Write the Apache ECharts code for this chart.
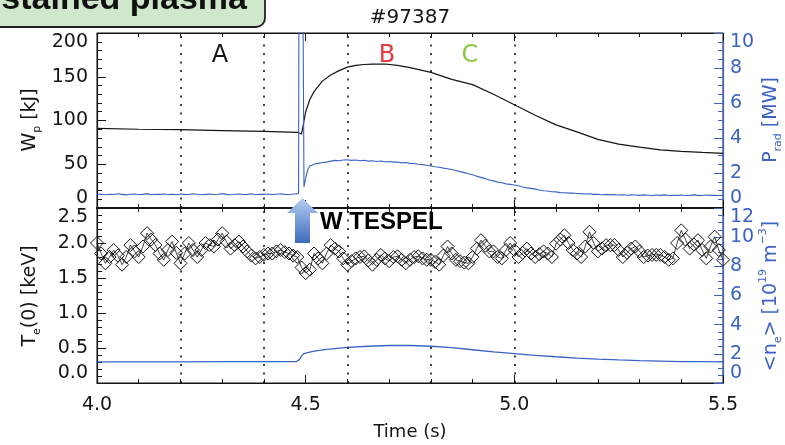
<!DOCTYPE html>
<html><head><meta charset="utf-8">
<script src="https://cdn.jsdelivr.net/npm/echarts@6/dist/echarts.min.js"></script>
<style>html,body{margin:0;padding:0;background:#fff}#c{width:785px;height:445px}</style>
</head><body><div id="c"></div>
<script>
// ---- data ----
const xMin = 4.0, xMax = 5.5;
const markerTimes = [4.2, 4.4, 4.6, 4.8, 5.0];

// Stored energy Wp [kJ]
const wpTime = [4.00,4.10,4.20,4.30,4.40,4.48,4.49,4.495,4.50,4.51,4.52,4.54,4.56,4.58,4.60,4.62,4.64,4.66,4.69,4.72,4.75,4.80,4.85,4.90,4.95,5.00,5.05,5.10,5.15,5.20,5.25,5.30,5.35,5.40,5.45,5.50];
const wpVal  = [91,90,89.5,88.5,87.5,86.5,84.5,97,110,124,133,145,152,157,161,163,164,164.5,164.6,163,160.5,155,147,141,130,118,106,95,87,78.5,73,69.5,66.5,64.8,63.5,62.5];

// Radiated power Prad [MW]
const pradPreStart = 4.00, pradStep = 0.01;
const pradPre = [0.78,0.80,0.76,0.79,0.77,0.81,0.78,0.75,0.79,0.80,0.77,0.78,0.82,0.76,0.79,0.78,0.80,0.77,0.79,0.76,0.80,0.78,0.77,0.81,0.79,0.76,0.78,0.80,0.77,0.79,0.82,0.78,0.76,0.79,0.80,0.77,0.78,0.81,0.76,0.79,0.78,0.80,0.77,0.79,0.81,0.78,0.76,0.80];
const pradSpikeTime = [4.478,4.483,4.484,4.493,4.496,4.50,4.505,4.51,4.52,4.53];
const pradSpikeVal  = [0.80,0.85,14,14,1.2,1.7,2.2,2.4,2.5,2.55];
const pradPostStart = 4.54;
const pradPost = [2.60,2.62,2.68,2.72,2.70,2.74,2.76,2.72,2.74,2.70,2.73,2.68,2.70,2.66,2.69,2.64,2.66,2.62,2.63,2.58,2.60,2.55,2.54,2.50,2.48,2.44,2.40,2.36,2.33,2.28,2.24,2.20,2.14,2.08,2.02,1.96,1.90,1.82,1.75,1.68,1.60,1.55,1.48,1.44,1.38,1.35,1.31,1.27,1.20,1.15,1.12,1.08,1.03,0.99,0.97,0.93,0.92,0.88,0.87,0.85,0.86,0.83,0.82,0.80,0.81,0.78,0.79,0.76,0.78,0.75,0.77,0.74,0.76,0.73,0.75,0.74,0.72,0.75,0.73,0.71,0.74,0.72,0.75,0.71,0.73,0.72,0.74,0.71,0.73,0.75,0.72,0.71,0.74,0.72,0.73,0.71,0.72];

// Central electron temperature Te(0) [keV], every 0.01 s from 4.00
const teStart = 4.00, teStep = 0.01;
const teVal = [2.00,1.85,1.71,1.80,1.90,1.82,1.69,1.80,1.97,1.88,1.80,1.95,2.14,2.05,1.97,1.85,1.76,1.90,2.02,1.86,
1.71,1.85,2.00,1.90,1.80,1.90,2.00,1.97,1.95,2.05,2.14,2.02,1.92,1.97,2.02,1.95,1.88,1.82,1.78,1.80,
1.83,1.85,1.85,1.88,1.90,1.87,1.85,1.82,1.80,1.65,1.57,1.62,1.85,1.78,1.71,1.85,1.97,1.92,1.88,1.78,
1.69,1.74,1.78,1.80,1.81,1.75,1.69,1.76,1.83,1.78,1.74,1.80,1.81,1.76,1.71,1.76,1.80,1.81,1.78,1.76,
1.76,1.73,1.69,1.82,1.95,1.85,1.76,1.74,1.72,1.71,1.80,1.92,2.04,1.96,1.88,1.88,1.80,1.78,1.90,2.00,
1.90,1.80,1.86,1.92,1.85,1.80,1.84,1.88,1.85,1.80,1.99,2.05,2.11,2.00,1.90,1.85,1.80,1.95,2.16,2.00,
1.88,1.92,1.97,1.97,1.97,1.90,1.80,1.86,1.92,1.95,1.88,1.80,1.82,1.83,1.83,1.83,1.80,1.76,1.78,2.00,
2.18,2.05,1.92,1.98,2.04,1.90,1.78,1.95,2.09,1.90,1.76];

// Line-averaged density <ne> [1e19 m^-3]
const neTime = [4.00,4.10,4.20,4.30,4.40,4.478,4.485,4.49,4.495,4.50,4.52,4.55,4.60,4.65,4.70,4.75,4.80,4.85,4.90,4.95,5.00,5.05,5.10,5.15,5.20,5.25,5.30,5.35,5.40,5.45,5.50];
const neVal  = [1.45,1.45,1.45,1.46,1.46,1.47,1.60,1.85,2.00,2.05,2.18,2.30,2.44,2.52,2.57,2.57,2.52,2.42,2.28,2.14,2.02,1.90,1.80,1.71,1.64,1.58,1.53,1.50,1.47,1.46,1.45];

// ---- build ----
const wpData = wpTime.map((t,i)=>[t, wpVal[i]]);
const pradData = [];
pradPre.forEach((v,i)=>pradData.push([+(pradPreStart + i*pradStep).toFixed(3), v]));
pradSpikeTime.forEach((t,i)=>pradData.push([t, pradSpikeVal[i]]));
pradPost.forEach((v,i)=>pradData.push([+(pradPostStart + i*pradStep).toFixed(3), v]));
const teData = teVal.map((v,i)=>[+(teStart + i*teStep).toFixed(3), v]);
const neData = neTime.map((t,i)=>[t, neVal[i]]);

const BLUE = '#3b63c4';
const INK = '#151515';
const FONT = 'DejaVu Sans';

function xAx(grid, pos, showLabel, lineW){
  return {
    type:'value', gridIndex:grid, position:pos, min:xMin, max:xMax, interval:0.5,
    axisLine:{show:true, onZero:false, lineStyle:{color:INK, width:lineW}},
    axisTick:{show:true, inside:true, length:8, lineStyle:{color:INK}},
    minorTick:{show:true, splitNumber:5, length:4, lineStyle:{color:INK}},
    splitLine:{show:false},
    axisLabel:{show:showLabel, color:INK, fontFamily:FONT, fontSize:19, margin:13,
      formatter:v=>v.toFixed(1)},
    name: showLabel ? 'Time (s)' : '', nameLocation:'middle', nameGap:40,
    nameTextStyle:{color:INK, fontFamily:FONT, fontSize:18}
  };
}
function yAx(grid, pos, min, max, interval, minor, color, fmt){
  return {
    type:'value', gridIndex:grid, position:pos, min, max, interval,
    axisLine:{show:true, onZero:false, lineStyle:{color, width:1.2}},
    axisTick:{show:true, inside:true, length:9, lineStyle:{color}},
    minorTick:{show:true, splitNumber:minor, length:5, lineStyle:{color}},
    splitLine:{show:false},
    axisLabel:{color, fontFamily:FONT, fontSize:19, margin: pos==='left'?9:7,
      formatter:fmt, verticalAlignMaxLabel:'top', verticalAlignMinLabel:'bottom'}
  };
}
const markLine = {
  symbol:'none', silent:true, label:{show:false},
  lineStyle:{type:[2,6.5], color:INK, width:1.6},
  data: markerTimes.map(t=>({xAxis:t}))
};

const chart = echarts.init(document.getElementById('c'), null, {renderer:'canvas'});
chart.setOption({
  animation:false,
  backgroundColor:'#fff',
  grid:[
    {left:97, right:62, top:33, height:175, show:true, borderColor:INK, borderWidth:1},
    {left:97, right:62, top:208, height:175, show:true, borderColor:INK, borderWidth:1}
  ],
  xAxis:[ xAx(0,'bottom',false,2), xAx(0,'top',false,1), xAx(1,'bottom',true,1.2), xAx(1,'top',false,2) ],
  yAxis:[
    yAx(0,'left',0,200,50,5,INK, v=>String(v)),
    yAx(0,'right',0,10,2,4,BLUE, v=>String(v)),
    yAx(1,'left',0,2.5,0.5,5,INK, v=>v.toFixed(1)),
    yAx(1,'right',0,12,2,4,BLUE, v=>String(v))
  ],
  series:[
    {type:'line', xAxisIndex:0, yAxisIndex:0, data:wpData, showSymbol:false, clip:true,
     lineStyle:{color:INK, width:1.2}, markLine},
    {type:'line', xAxisIndex:0, yAxisIndex:1, data:pradData, showSymbol:false, clip:true,
     lineStyle:{color:BLUE, width:1.1}},
    {type:'line', xAxisIndex:2, yAxisIndex:2, data:teData, symbol:'diamond', symbolSize:13,
     showSymbol:true, showAllSymbol:true, clip:true,
     itemStyle:{color:'rgba(255,255,255,0)', borderColor:INK, borderWidth:1},
     lineStyle:{color:INK, width:0.8}, markLine},
    {type:'line', xAxisIndex:2, yAxisIndex:3, data:neData, showSymbol:false, clip:true,
     lineStyle:{color:BLUE, width:1.3}}
  ],
  graphic:[
    {type:'rect', shape:{x:-20, y:-20, width:285, height:47, r:9},
     style:{fill:'#cfe8cb', stroke:'#222', lineWidth:1.8}, z:10},
    {type:'text', x:247, y:0, z:11,
     style:{text:'Sustained plasma', fill:'#111', font:'bold 34px "Liberation Sans", Arial, sans-serif',
       align:'right', verticalAlign:'middle'}},
    {type:'text', x:410, y:18, style:{text:'#97387', fill:INK, font:'20px "DejaVu Sans"', align:'center', verticalAlign:'middle'}},
    {type:'text', x:220, y:56, style:{text:'A', fill:INK, font:'24px "DejaVu Sans"', align:'center', verticalAlign:'middle'}},
    {type:'text', x:387, y:56, style:{text:'B', fill:'#e23a3f', font:'24px "DejaVu Sans"', align:'center', verticalAlign:'middle'}},
    {type:'text', x:470, y:56, style:{text:'C', fill:'#8dc63f', font:'24px "DejaVu Sans"', align:'center', verticalAlign:'middle'}},
    {type:'polygon', shape:{points:[[287,213],[302.5,198],[318,213],[310,213],[310,243],[295,243],[295,213]]},
     style:{fill:new echarts.graphic.LinearGradient(0,0,0,1,[{offset:0,color:'#b7cdf0'},{offset:1,color:'#3c6bbd'}])}, z:20},
    {type:'text', x:320, y:222, z:20, style:{text:'W TESPEL', fill:'#000', font:'bold 24px "Liberation Sans", Arial, sans-serif', align:'left', verticalAlign:'middle'}},
    // axis titles
    {type:'text', x:30, y:120, rotation:Math.PI/2,
     style:{text:'{a|W}{s|p}{a| [kJ]}', align:'center', verticalAlign:'middle',
       rich:{a:{fontFamily:FONT, fontSize:19, fill:INK, lineHeight:26, verticalAlign:'middle'},
             s:{fontFamily:FONT, fontSize:11, fill:INK, lineHeight:26, verticalAlign:'bottom'}}}},
    {type:'text', x:30, y:296, rotation:Math.PI/2,
     style:{text:'{a|T}{s|e}{a|(0) [keV]}', align:'center', verticalAlign:'middle',
       rich:{a:{fontFamily:FONT, fontSize:19, fill:INK, lineHeight:26, verticalAlign:'middle'},
             s:{fontFamily:FONT, fontSize:11, fill:INK, lineHeight:26, verticalAlign:'bottom'}}}},
    {type:'text', x:771, y:120, rotation:Math.PI/2,
     style:{text:'{a|P}{s|rad}{a| [MW]}', align:'center', verticalAlign:'middle',
       rich:{a:{fontFamily:FONT, fontSize:19, fill:BLUE, lineHeight:26, verticalAlign:'middle'},
             s:{fontFamily:FONT, fontSize:11, fill:BLUE, lineHeight:26, verticalAlign:'bottom'}}}},
    {type:'text', x:771, y:296, rotation:Math.PI/2,
     style:{text:'{a|<n}{s|e}{a|> [10}{u|19}{a| m}{u|−3}{a|]}', align:'center', verticalAlign:'middle',
       rich:{a:{fontFamily:FONT, fontSize:19, fill:BLUE, lineHeight:26, verticalAlign:'middle'},
             s:{fontFamily:FONT, fontSize:11, fill:BLUE, lineHeight:26, verticalAlign:'bottom'},
             u:{fontFamily:FONT, fontSize:11, fill:BLUE, lineHeight:26, verticalAlign:'top'}}}}
  ]
});
</script></body></html>
